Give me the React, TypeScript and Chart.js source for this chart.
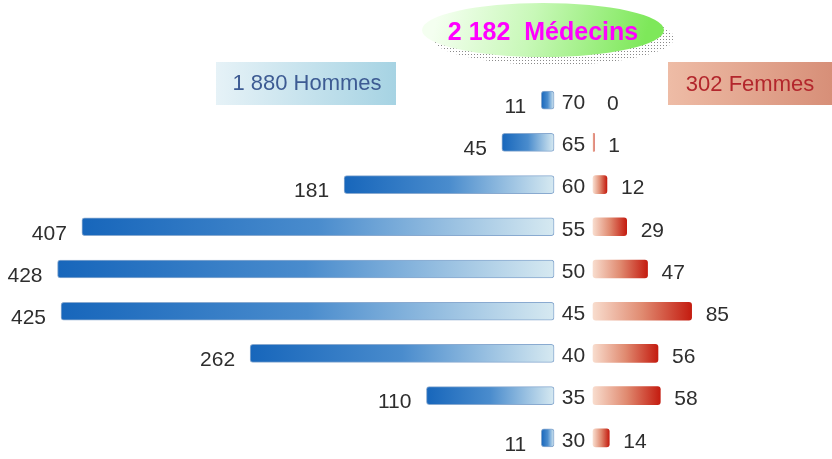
import React, { useEffect, useRef } from "react";
import { Chart, registerables } from "chart.js";
Chart.register(...registerables);

const ages = ["70", "65", "60", "55", "50", "45", "40", "35", "30"];
const hommes = [11, 45, 181, 407, 428, 425, 262, 110, 11];
const femmes = [0, 1, 12, 29, 47, 85, 56, 58, 14];
const totalLabel = "2 182  Médecins";
const hommesLabel = "1 880 Hommes";
const femmesLabel = "302 Femmes";

const GAP = 16.8;
const FONT = "Arial, 'Liberation Sans', sans-serif";

function gradientFor(ctx: any, stops: [number, string][], fallback: string) {
  const chart = ctx.chart;
  const { chartArea, scales } = chart;
  if (!chartArea || ctx.type !== "data" || !scales.x) return fallback;
  const raw = ctx.raw as [number, number];
  if (raw[1] - raw[0] === 0) return "rgba(0,0,0,0)";
  const x0 = scales.x.getPixelForValue(raw[0]);
  const x1 = scales.x.getPixelForValue(raw[1]);
  if (Math.abs(x1 - x0) < 1) return fallback;
  const g = chart.ctx.createLinearGradient(x0, 0, x1, 0);
  stops.forEach(([o, c]) => g.addColorStop(o, c));
  return g;
}

const decorPlugin = {
  id: "decor",
  beforeDatasetsDraw(chart: any) {
    const c = chart.ctx as CanvasRenderingContext2D;
    c.save();
    // Hommes box
    let g = c.createLinearGradient(216, 0, 396, 0);
    g.addColorStop(0, "#e6f2f7");
    g.addColorStop(1, "#a6d3e3");
    c.fillStyle = g;
    c.fillRect(216, 62, 180, 43);
    c.fillStyle = "#3d5b93";
    c.font = `22px ${FONT}`;
    c.textAlign = "center";
    c.textBaseline = "middle";
    c.fillText(hommesLabel, 307, 84);
    // Femmes box
    g = c.createLinearGradient(668, 0, 832, 0);
    g.addColorStop(0, "#eebca6");
    g.addColorStop(1, "#d78f78");
    c.fillStyle = g;
    c.fillRect(668, 62, 164, 43);
    c.fillStyle = "#b3262c";
    c.fillText(femmesLabel, 750, 85);
    // Ellipse shadow (dotted)
    const pc = document.createElement("canvas");
    pc.width = 3;
    pc.height = 3;
    const pctx = pc.getContext("2d")!;
    pctx.fillStyle = "#8a8a8a";
    pctx.fillRect(0, 0, 1, 1);
    const pattern = c.createPattern(pc, "repeat")!;
    c.beginPath();
    c.ellipse(553, 38, 121, 27, 0, 0, Math.PI * 2);
    c.fillStyle = pattern;
    c.fill();
    // Ellipse
    c.beginPath();
    c.ellipse(543, 30, 121, 27, 0, 0, Math.PI * 2);
    g = c.createLinearGradient(440, 5, 640, 58);
    g.addColorStop(0, "#f4fff0");
    g.addColorStop(0.45, "#c8f8b8");
    g.addColorStop(1, "#7ee85a");
    c.fillStyle = g;
    c.fill();
    c.fillStyle = "#ff00ff";
    c.font = `bold 25px ${FONT}`;
    c.textAlign = "center";
    c.fillText(totalLabel, 543, 33);
    c.restore();
  },
  afterDatasetsDraw(chart: any) {
    const c = chart.ctx as CanvasRenderingContext2D;
    const { x, y } = chart.scales;
    c.save();
    c.font = `21px ${FONT}`;
    c.fillStyle = "#2e2e2e";
    c.textBaseline = "middle";
    ages.forEach((age, i) => {
      const py = y.getPixelForValue(i);
      c.textAlign = "right";
      c.fillText(String(hommes[i]), x.getPixelForValue(-GAP - hommes[i]) - 15, py + 7);
      c.textAlign = "center";
      c.fillText(age, x.getPixelForValue(0), py + 3);
      c.textAlign = "left";
      c.fillText(String(femmes[i]), x.getPixelForValue(GAP + femmes[i]) + 14, py + 4);
    });
    c.restore();
  },
};

export default function App() {
  const ref = useRef<HTMLCanvasElement | null>(null);
  useEffect(() => {
    if (!ref.current) return;
    const chart = new Chart(ref.current, {
      type: "bar",
      data: {
        labels: ages,
        datasets: [
          {
            label: "Hommes",
            data: hommes.map((v) => [-GAP - v, -GAP]) as any,
            grouped: false,
            barThickness: 18,
            borderRadius: 3,
            borderSkipped: false,
            borderWidth: 1,
            borderColor: "rgba(40,100,170,0.55)",
            backgroundColor: (ctx: any) =>
              gradientFor(
                ctx,
                [
                  [0, "#1766bb"],
                  [0.5, "#4a8ccd"],
                  [1, "#d6e9f1"],
                ],
                "#4f8fcf"
              ),
          } as any,
          {
            label: "Femmes",
            data: femmes.map((v) => [GAP, GAP + v]) as any,
            grouped: false,
            barThickness: 18,
            borderRadius: 3,
            borderSkipped: false,
            borderWidth: 0,
            backgroundColor: (ctx: any) =>
              gradientFor(
                ctx,
                [
                  [0, "#f8dccd"],
                  [0.5, "#e08a70"],
                  [1, "#c41c10"],
                ],
                "#e08a70"
              ),
          } as any,
        ],
      },
      options: {
        indexAxis: "y",
        animation: false,
        responsive: true,
        maintainAspectRatio: false,
        layout: { padding: { top: 79, bottom: 0, left: 0, right: 0 } },
        plugins: { legend: { display: false }, tooltip: { enabled: false } },
        scales: {
          x: { type: "linear", min: -494.4, max: 222.8, display: false },
          y: { type: "category", display: false, offset: true },
        },
      },
      plugins: [decorPlugin],
    });
    return () => chart.destroy();
  }, []);
  return (
    <div style={{ position: "fixed", left: 0, top: 0, width: 832, height: 459, background: "#fff" }}>
      <canvas ref={ref} />
    </div>
  );
}
